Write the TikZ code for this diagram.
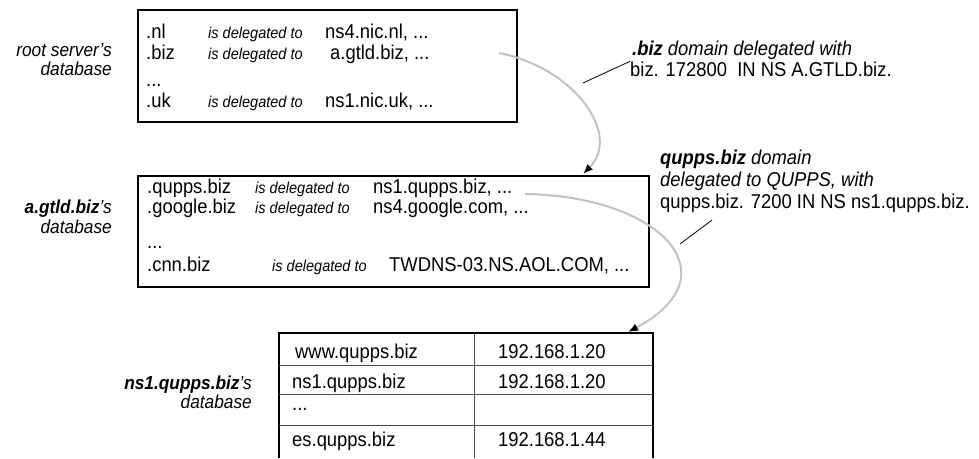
\documentclass[tikz,border=0pt]{standalone}
\usepackage{fontspec}
\setmainfont{Liberation Sans}[FakeStretch=0.92]
\usetikzlibrary{arrows.meta}

\tikzset{
  dbbox/.style={draw,line width=2pt,anchor=north west,inner sep=0pt},
  entry/.style={anchor=base west,inner sep=0pt,font=\fontsize{20}{22}\selectfont},
  deleg/.style={anchor=base west,inner sep=0pt,font=\fontsize{15.8}{17}\selectfont\itshape},
  dblabel/.style={anchor=base east,inner sep=0pt,font=\fontsize{18.8}{20}\selectfont\itshape},
  tablerule/.style={draw,line width=2pt},
  tablegrid/.style={draw,black!70,line width=0.9pt},
  hop/.style={draw=black!24,line width=2pt,-{Latex[length=10pt,width=8pt,color=black]}},
  leader/.style={draw,line width=0.8pt},
}

\begin{document}
\begin{tikzpicture}[x=1pt,y=-1pt]
  \useasboundingbox (0,0) rectangle (979,458);

  % root server's database
  \node[dblabel] (rootname) at (112,56) {root server's};
  \node[dblabel] (rootdbword) at (112,75) {database};
  \node[dbbox,minimum width=379pt,minimum height=112pt] (rootdb) at (137,9) {};
  \foreach \y/\tld/\nsx/\ns in {38/.nl/325/{ns4.nic.nl, ...}, 59/.biz/330/{a.gtld.biz, ...}, 107/.uk/325/{ns1.nic.uk, ...}} {
    \node[entry] (rtld-\y) at (146,\y) {\tld};
    \node[deleg] (rvia-\y) at (208,\y) {is delegated to};
    \node[entry] (rns-\y) at (\nsx,\y) {\ns};
  }
  \node[entry] (rdots) at (146,86) {...};

  % a.gtld.biz's database
  \node[dblabel] (gtldname) at (112,213) {\bfseries a.gtld.biz\mdseries's};
  \node[dblabel] (gtlddbword) at (112,233) {database};
  \node[dbbox,minimum width=511pt,minimum height=111pt] (gtlddb) at (137,175) {};
  \foreach \y/\dom/\viax/\nsx/\ns in {193/.qupps.biz/255/373/{ns1.qupps.biz, ...}, 213/.google.biz/255/373/{ns4.google.com, ...}, 271/.cnn.biz/272/389/{TWDNS-03.NS.AOL.COM, ...}} {
    \node[entry] (gdom-\y) at (147,\y) {\dom};
    \node[deleg] (gvia-\y) at (\viax,\y) {is delegated to};
    \node[entry] (gns-\y) at (\nsx,\y) {\ns};
  }
  \node[entry] (gdots) at (147,248) {...};

  % ns1.qupps.biz's database
  \node[dblabel] (quppsname) at (252,389) {\bfseries ns1.qupps.biz\mdseries's};
  \node[dblabel] (quppsdbword) at (252,408) {database};
  \path[tablerule] (279,458) |- (653,333) -- (653,458);
  \foreach \y in {365,394,425}
    \path[tablegrid] (279,\y) -- (653,\y);
  \path[tablegrid] (474,333) -- (474,458);
  \foreach \y/\hx/\host/\ip in {358/295/www.qupps.biz/192.168.1.20, 388/292/ns1.qupps.biz/192.168.1.20, 446/292/es.qupps.biz/192.168.1.44} {
    \node[entry] (host-\y) at (\hx,\y) {\host};
    \node[entry] (ip-\y) at (498,\y) {\ip};
  }
  \node[entry] (tdots) at (292,410) {...};

  % delegation notes
  \node[entry] (biznote) at (632,55) {\textbf{\textit{.biz}} \textit{domain delegated with}};
  \node[entry] (bizrr) at (630,76) {biz. 172800\ \ IN NS A.GTLD.biz.};
  \node[entry] (quppsnote) at (660,164) {\textbf{\textit{qupps.biz}} \textit{domain}};
  \node[entry] (quppsnote2) at (660,186) {\textit{delegated to QUPPS, with}};
  \node[entry] (quppsrr) at (660,208) {qupps.biz. 7200 IN NS ns1.qupps.biz.};

  \coordinate (lead1) at (583,83);
  \coordinate (lead2a) at (680,244);
  \coordinate (lead2b) at (712,220);
  \path[leader] (lead1) -- (bizrr.north west);
  \path[leader] (lead2a) -- (lead2b);

  % delegation hops
  \coordinate (hop1a) at (499,53);
  \coordinate (hop1b) at (583,174);
  \coordinate (hop2a) at (525,194);
  \coordinate (hop2b) at (628,332);
  \path[hop] (hop1a) .. controls (575,68) and (622,135) .. (hop1b);
  \path[hop] (hop2a) .. controls (660,196) and (735,275) .. (hop2b);
\end{tikzpicture}
\end{document}
